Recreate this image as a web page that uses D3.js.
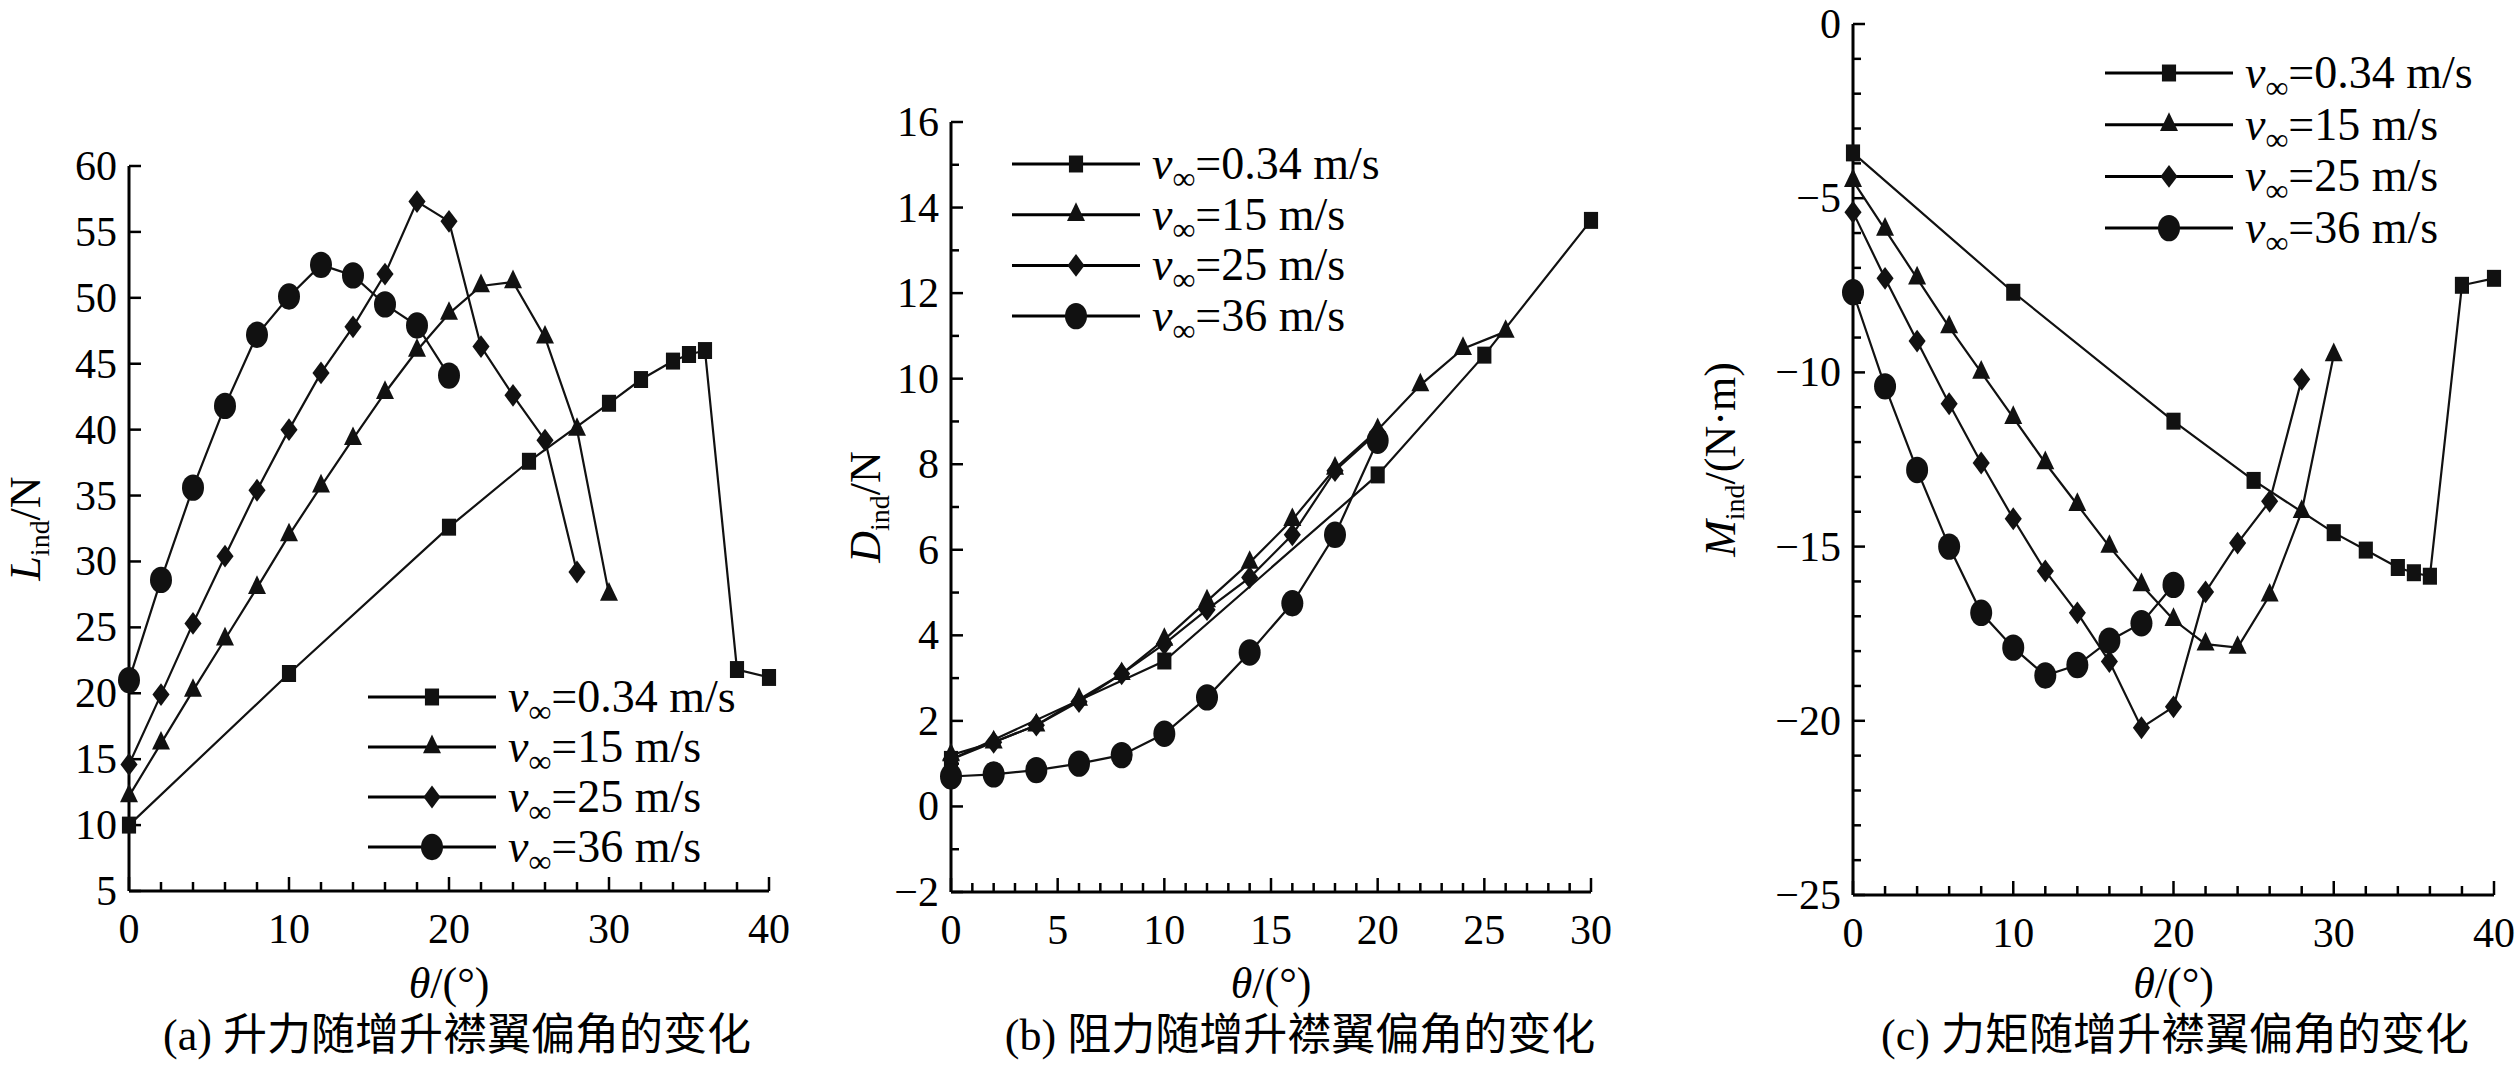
<!DOCTYPE html>
<html>
<head>
<meta charset="utf-8">
<script src="https://d3js.org/d3.v7.min.js"></script>
<style>body{margin:0;background:#fff}</style>
</head>
<body>
<script>
// data
var legendLabels = ["=0.34 m/s", "=15 m/s", "=25 m/s", "=36 m/s"];
var symbols = ["square", "triangle", "diamond", "circle"];

var thetaA = [0, 10, 20, 25, 30, 32, 34, 35, 36, 38, 40];
var theta2to30 = [0, 2, 4, 6, 8, 10, 12, 14, 16, 18, 20, 22, 24, 26, 28, 30];

var liftA = [10, 21.5, 32.6, 37.6, 42, 43.8, 45.2, 45.7, 46, 21.8, 21.2];
var lift15 = [12.2, 16.2, 20.2, 24.1, 28, 32, 35.7, 39.3, 42.8, 46, 48.8, 50.9, 51.2, 47, 40, 27.5];
var lift25 = [14.6, 19.9, 25.3, 30.4, 35.4, 40, 44.3, 47.8, 51.8, 57.3, 55.8, 46.3, 42.6, 39.2, 29.2];
var lift36 = [21, 28.6, 35.6, 41.8, 47.2, 50.1, 52.5, 51.7, 49.5, 47.9, 44.1];

var thetaB = [0, 10, 20, 25, 30];
var dragA = [1.1, 3.4, 7.75, 10.55, 13.7];
var drag15 = [1.2, 1.5, 1.9, 2.5, 3.1, 3.9, 4.8, 5.7, 6.7, 7.9, 8.8, 9.85, 10.7, 11.1];
var drag25 = [1.1, 1.5, 1.9, 2.45, 3.1, 3.8, 4.6, 5.35, 6.35, 7.85, 8.75];
var drag36 = [0.7, 0.75, 0.85, 1.0, 1.2, 1.7, 2.55, 3.6, 4.75, 6.35, 8.55];

var momA = [-3.7, -7.7, -11.4, -13.1, -14.6, -15.1, -15.6, -15.75, -15.85, -7.5, -7.3];
var mom15 = [-4.5, -5.9, -7.3, -8.7, -10, -11.3, -12.6, -13.8, -15, -16.1, -17.1, -17.8, -17.9, -16.4, -14, -9.5];
var mom25 = [-5.4, -7.3, -9.1, -10.9, -12.6, -14.2, -15.7, -16.9, -18.3, -20.2, -19.6, -16.3, -14.9, -13.7, -10.2];
var mom36 = [-7.7, -10.4, -12.8, -15, -16.9, -17.9, -18.7, -18.4, -17.7, -17.2, -16.1];

function zipS(xs, ys) { return ys.map(function(y, i) { return [xs[i], y]; }); }

var W = 2519, H = 1072;
var svg = d3.select("body").append("svg").attr("width", W).attr("height", H)
  .style("font-family", "'Liberation Serif', 'Times New Roman', serif");

function drawPanel(p) {
  var g = svg.append("g");
  var x = d3.scaleLinear().domain(p.xd).range([p.x0, p.x1]);
  var y = d3.scaleLinear().domain(p.yd).range([p.y0, p.y1]);

  // axes lines
  g.append("line").attr("x1", p.x0).attr("x2", p.x1).attr("y1", p.y0).attr("y2", p.y0).attr("stroke", "#000").attr("stroke-width", 3);
  g.append("line").attr("x1", p.x0).attr("x2", p.x0).attr("y1", p.y0).attr("y2", p.y1).attr("stroke", "#000").attr("stroke-width", 3);

  // ticks (inward)
  d3.range(p.xd[0], p.xd[1] + 0.001, p.xMinor).forEach(function(v) {
    var major = Math.abs(v / p.xMajor - Math.round(v / p.xMajor)) < 1e-6;
    g.append("line").attr("x1", x(v)).attr("x2", x(v)).attr("y1", p.y0).attr("y2", p.y0 - (major ? 14 : 9)).attr("stroke", "#000").attr("stroke-width", 2.5);
    if (major) g.append("text").attr("x", x(v)).attr("y", p.y0 + 52).attr("text-anchor", "middle").attr("font-size", 42).text(v);
  });
  d3.range(p.yd[0], p.yd[1] + 0.001, p.yMinor).forEach(function(v) {
    var major = Math.abs(v / p.yMajor - Math.round(v / p.yMajor)) < 1e-6;
    g.append("line").attr("x1", p.x0).attr("x2", p.x0 + (major ? 12 : 8)).attr("y1", y(v)).attr("y2", y(v)).attr("stroke", "#000").attr("stroke-width", 2.5);
    if (major) g.append("text").attr("x", p.x0 - 12).attr("y", y(v) + 14).attr("text-anchor", "end").attr("font-size", 42)
      .text(v < 0 ? "\u2212" + (-v) : v);
  });

  // axis titles
  var xt = g.append("text").attr("x", (p.x0 + p.x1) / 2).attr("y", 998).attr("text-anchor", "middle").attr("font-size", 44);
  xt.append("tspan").attr("font-style", "italic").text("\u03b8");
  xt.append("tspan").text("/(\u00b0)");
  var yt = g.append("text").attr("transform", "translate(" + p.ylx + "," + ((p.y0 + p.y1) / 2) + ") rotate(-90)")
    .attr("text-anchor", "middle").attr("font-size", 44);
  yt.append("tspan").attr("font-style", "italic").text(p.ysym);
  yt.append("tspan").attr("font-size", 28).attr("dy", 9).text("ind");
  yt.append("tspan").attr("dy", -9).text(p.yunit);

  // caption
  g.append("text").attr("x", p.capx).attr("y", 1050).attr("text-anchor", "middle").attr("font-size", 44)
    .style("font-family", "'Liberation Serif', 'Noto Sans CJK SC', serif").text(p.caption);

  var line = d3.line().x(function(d) { return x(d[0]); }).y(function(d) { return y(d[1]); });
  p.series.forEach(function(s, i) {
    g.append("path").datum(s).attr("fill", "none").attr("stroke", "#111").attr("stroke-width", 2.2).attr("d", line);
    s.forEach(function(d) { marker(g, symbols[i], x(d[0]), y(d[1])); });
  });

  // legend
  legendLabels.forEach(function(t, i) {
    var ly = p.ly + i * p.lstep;
    g.append("line").attr("x1", p.lx).attr("x2", p.lx + 128).attr("y1", ly).attr("y2", ly).attr("stroke", "#000").attr("stroke-width", 3);
    marker(g, symbols[i], p.lx + 64, ly);
    var tx = g.append("text").attr("x", p.lx + 140).attr("y", ly + 15).attr("font-size", 46);
    tx.append("tspan").attr("font-style", "italic").text("v");
    tx.append("tspan").attr("font-size", 32).attr("dy", 10).text("\u221e");
    tx.append("tspan").attr("dy", -10).text(t);
  });
}

function marker(g, type, cx, cy) {
  var sizes = { square: 200, triangle: 140, diamond: 150, circle: 380 };
  var sym = { square: d3.symbolSquare, triangle: d3.symbolTriangle, diamond: d3.symbolDiamond, circle: d3.symbolCircle }[type];
  g.append("path").attr("d", d3.symbol().type(sym).size(sizes[type])()).attr("fill", "#111")
    .attr("transform", "translate(" + cx + "," + cy + ")" + (type === "diamond" ? " scale(1.3,1.0)" : " scale(1,1.2)"));
}

drawPanel({
  xd: [0, 40], yd: [5, 60], x0: 129, x1: 769, y0: 891, y1: 166,
  xMajor: 10, xMinor: 2, yMajor: 5, yMinor: 5,
  ysym: "L", yunit: "/N", ylx: 40, capx: 457, caption: "(a) 升力随增升襟翼偏角的变化",
  lx: 368, ly: 697, lstep: 50,
  series: [zipS(thetaA, liftA), zipS(theta2to30, lift15), zipS(theta2to30, lift25), zipS(theta2to30, lift36)]
});
drawPanel({
  xd: [0, 30], yd: [-2, 16], x0: 951, x1: 1591, y0: 892, y1: 122,
  xMajor: 5, xMinor: 1, yMajor: 2, yMinor: 1,
  ysym: "D", yunit: "/N", ylx: 880, capx: 1300, caption: "(b) 阻力随增升襟翼偏角的变化",
  lx: 1012, ly: 164, lstep: 50.7,
  series: [zipS(thetaB, dragA), zipS(theta2to30, drag15), zipS(theta2to30, drag25), zipS(theta2to30, drag36)]
});
drawPanel({
  xd: [0, 40], yd: [-25, 0], x0: 1853, x1: 2494, y0: 895, y1: 24,
  xMajor: 10, xMinor: 2, yMajor: 5, yMinor: 1,
  ysym: "M", yunit: "/(N\u00b7m)", ylx: 1735, capx: 2175, caption: "(c) 力矩随增升襟翼偏角的变化",
  lx: 2105, ly: 73, lstep: 51.7,
  series: [zipS(thetaA, momA), zipS(theta2to30, mom15), zipS(theta2to30, mom25), zipS(theta2to30, mom36)]
});
</script>
</body>
</html>
